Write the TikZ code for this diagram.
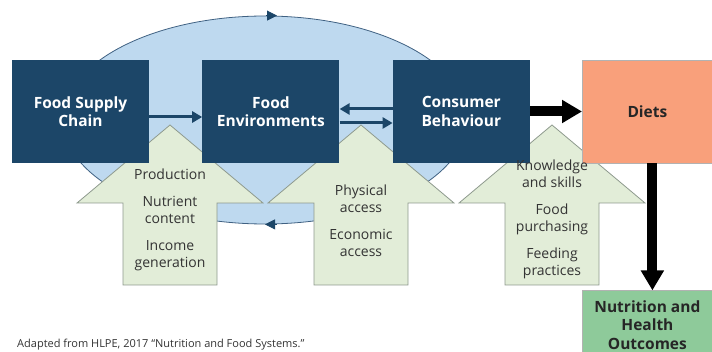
\documentclass[tikz,border=0pt]{standalone}
\usepackage{fontspec}
\setmainfont{Open Sans}
\usetikzlibrary{positioning,arrows.meta,shapes.geometric}
\definecolor{darkblue}{HTML}{1C4668}
\definecolor{loopblue}{HTML}{BED9EF}
\definecolor{loopline}{HTML}{3F6182}
\definecolor{levergreen}{HTML}{E2EDD8}
\definecolor{levergray}{HTML}{8E9A8E}
\definecolor{textgray}{HTML}{333333}
\definecolor{dietorange}{HTML}{F9A07B}
\definecolor{outcomegreen}{HTML}{8ECA9A}

\begin{document}
\begin{tikzpicture}[x=1pt, y=-1pt,
	box/.style={fill=darkblue, text=white, font=\fontsize{15.5}{18.5}\selectfont\bfseries, align=center,
		inner sep=0pt, minimum width=137pt, minimum height=103pt},
	outbox/.style={draw=gray!60, line width=0.8pt, text=black!85, font=\fontsize{15.5}{18.5}\selectfont\bfseries,
		align=center, inner sep=0pt, minimum width=130pt},
	lever/.style={fill=levergreen, draw=levergray, line width=0.8pt},
	levertext/.style={text=textgray, font=\fontsize{14}{17}\selectfont, align=center},
	link/.style={draw=darkblue, line width=3pt, -{Triangle[length=10pt,width=11pt]}},
	bigarrow/.style={draw=black, line width=10pt, -{Triangle[length=20pt,width=22pt]}}]

	\useasboundingbox (0,0) rectangle (712,352);
	\clip (0,0) rectangle (712,352);

	\node (foodloop) [ellipse, fill=loopblue, draw=loopline, line width=0.8pt, inner sep=0pt,
		minimum width=404pt, minimum height=208pt] at (265,120) {};
	\draw[darkblue, line width=0.8pt, -{Triangle[length=10pt,width=10pt]}] ([xshift=1pt]foodloop.north) -- ([xshift=12pt]foodloop.north);
	\draw[darkblue, line width=0.8pt, -{Triangle[length=10pt,width=10pt]}] ([xshift=12pt]foodloop.south) -- (foodloop.south);

	\foreach \cx in {170,361,552}
		\draw[lever] (\cx,125) -- (\cx+93,203) -- (\cx+47,203) -- (\cx+47,285) -- (\cx-47,285)
			-- (\cx-47,203) -- (\cx-93,203) -- cycle;

	\node (supply) [box] at (80.5,111.5) {Food Supply\\Chain};
	\node (environments) [box, right=53pt of supply] {Food\\Environments};
	\node (behaviour) [box, right=53pt of environments] {Consumer\\Behaviour};
	\node (diets) [outbox, fill=dietorange, minimum height=103pt, right=52pt of behaviour] {Diets};
	\node (outcomes) [outbox, fill=outcomegreen, minimum height=68pt, below=127pt of diets] {Nutrition and\\Health\\Outcomes};

	\draw[link] ([yshift=-5.5pt]supply.east) -- ([yshift=-5.5pt]environments.west);
	\draw[link] ([yshift=2.5pt]behaviour.west) -- ([yshift=2.5pt]environments.east);
	\draw[link] ([yshift=-11.5pt]environments.east) -- ([yshift=-11.5pt]behaviour.west);
	\draw[bigarrow] (behaviour) -- (diets);
	\draw[bigarrow] ([xshift=5pt]diets.south) -- ([xshift=5pt]outcomes.north);

	\node (supplylevers) [levertext] at (170,220) {Production\\[10pt]Nutrient\\content\\[10pt]Income\\generation};
	\node (accesslevers) [levertext] at (361,221) {Physical\\access\\[10pt]Economic\\access};
	\node (consumerlevers) [levertext] at (552,219.5) {Knowledge\\and skills\\[10pt]Food\\purchasing\\[10pt]Feeding\\practices};

	\node (source) [anchor=west, inner sep=0pt, text=textgray, font=\fontsize{11}{13}\selectfont] at (17,345)
		{Adapted from HLPE, 2017 “Nutrition and Food Systems.”};
\end{tikzpicture}
\end{document}
